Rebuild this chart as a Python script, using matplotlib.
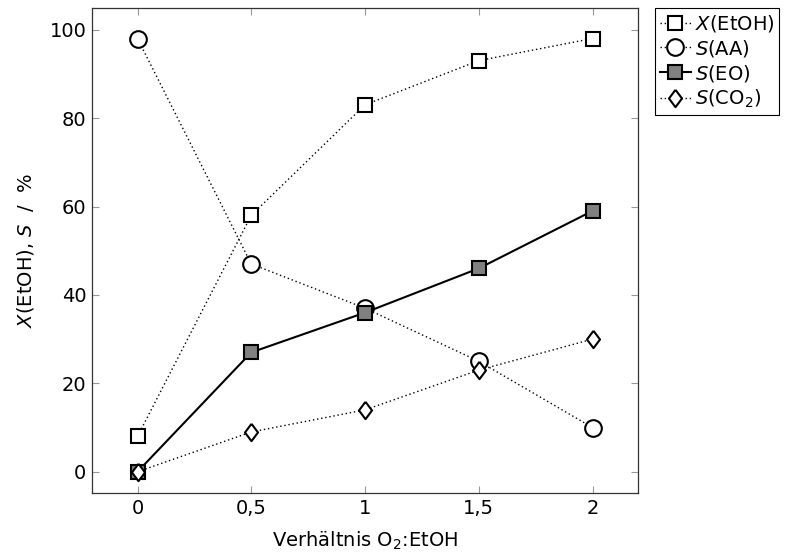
import numpy as np
import matplotlib
matplotlib.use("Agg")
import matplotlib.pyplot as plt

# data
ratio = [0, 0.5, 1, 1.5, 2]
x_etoh = [8, 58, 83, 93, 98]
s_aa = [98, 47, 37, 25, 10]
s_eo = [0, 27, 36, 46, 59]
s_co2 = [0, 9, 14, 23, 30]
xtick_labels = ["0", "0,5", "1", "1,5", "2"]

plt.rcParams['font.family'] = ['DejaVu Sans']
plt.rcParams['mathtext.fontset'] = 'dejavusans'
plt.rcParams['font.size'] = 14

fig = plt.figure(figsize=(7.91, 5.55), dpi=100)
ax = fig.add_axes([92 / 791, 62 / 555, 546 / 791, 485 / 555])

dotted = (0, (1, 2.0))
diamond = [(0, 1), (0.75, 0), (0, -1), (-0.75, 0), (0, 1)]
mew = 1.5

ax.plot(ratio, x_etoh, linestyle=dotted, color='black', lw=1.0,
        marker='s', ms=9.5, mfc='white', mec='black', mew=mew,
        label=r'$X$(EtOH)', zorder=3)
ax.plot(ratio, s_aa, linestyle=dotted, color='black', lw=1.0,
        marker='o', ms=12, mfc='white', mec='black', mew=mew,
        label=r'$S$(AA)', zorder=3)
ax.plot(ratio, s_eo, linestyle='-', color='black', lw=1.5,
        marker='s', ms=9.5, mfc='#808080', mec='black', mew=mew,
        label=r'$S$(EO)', zorder=4)
ax.plot(ratio, s_co2, linestyle=dotted, color='black', lw=1.0,
        marker=diamond, ms=12.5, mfc='white', mec='black', mew=mew,
        label=r'$S$(CO$_2$)', zorder=5)

ax.set_xlim(-0.2, 2.2)
ax.set_ylim(-4.8, 104.9)
ax.set_xticks(ratio)
ax.set_xticklabels(xtick_labels)
ax.set_yticks([0, 20, 40, 60, 80, 100])
ax.tick_params(direction='in', length=5, width=0.8, color='#999999',
               top=True, right=True, pad=4)
for sp in ax.spines.values():
    sp.set_color('#333333')
    sp.set_linewidth(0.9)

ax.set_xlabel(r'Verhältnis O$_2$:EtOH', labelpad=9)
ax.set_ylabel(r'$X$(EtOH), $S$  /  %', labelpad=10)

leg = fig.legend(loc='upper left', bbox_to_anchor=(655 / 791, 1 - 8 / 555),
                 fancybox=False, framealpha=1, edgecolor='black',
                 fontsize=14, handlelength=1.6, handletextpad=0.2,
                 labelspacing=0.2, borderpad=0.25, borderaxespad=0)
leg.get_frame().set_linewidth(0.8)

fig.savefig('out.png', dpi=100)
